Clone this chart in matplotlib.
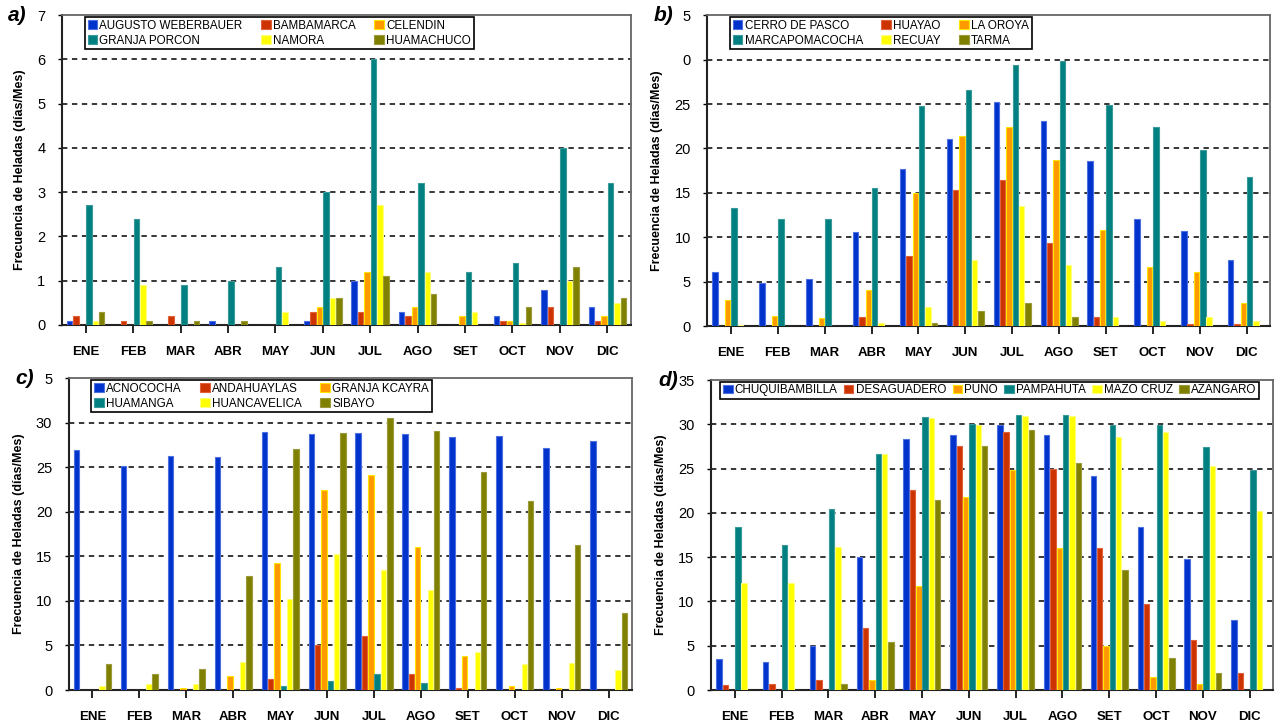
import numpy as np
import matplotlib
matplotlib.use("Agg")
import matplotlib.pyplot as plt

plt.rcParams['font.family'] = ['Liberation Sans', 'DejaVu Sans']

meses = ["ENE", "FEB", "MAR", "ABR", "MAY", "JUN", "JUL", "AGO", "SET", "OCT", "NOV", "DIC"]

# a) Cajamarca / La Libertad
est_a = ["AUGUSTO WEBERBAUER", "BAMBAMARCA", "CELENDIN", "GRANJA PORCON", "NAMORA", "HUAMACHUCO"]
a_weberbauer = [0.1, 0, 0, 0.1, 0, 0.1, 1.0, 0.3, 0, 0.2, 0.8, 0.4]
a_bambamarca = [0.2, 0.1, 0.2, 0, 0, 0.3, 0.3, 0.2, 0, 0.1, 0.4, 0.1]
a_celendin = [0, 0, 0, 0, 0, 0.4, 1.2, 0.4, 0.2, 0.1, 0, 0.2]
a_porcon = [2.7, 2.4, 0.9, 1.0, 1.3, 3.0, 6.0, 3.2, 1.2, 1.4, 4.0, 3.2]
a_namora = [0.1, 0.9, 0, 0, 0.3, 0.6, 2.7, 1.2, 0.3, 0.05, 1.0, 0.5]
a_huamachuco = [0.3, 0.1, 0.1, 0.1, 0, 0.6, 1.1, 0.7, 0, 0.4, 1.3, 0.6]

# b) Pasco / Junin / Ancash
est_b = ["CERRO DE PASCO", "HUAYAO", "LA OROYA", "MARCAPOMACOCHA", "RECUAY", "TARMA"]
b_pasco = [6.1, 4.8, 5.3, 10.6, 17.7, 21.1, 25.2, 23.1, 18.6, 12.1, 10.7, 7.4]
b_huayao = [0, 0, 0, 1.0, 7.9, 15.3, 16.4, 9.3, 1.0, 0, 0.2, 0.2]
b_oroya = [2.9, 1.1, 0.9, 4.1, 15.0, 21.4, 22.4, 18.7, 10.8, 6.6, 6.1, 2.6]
b_marca = [13.3, 12.0, 12.1, 15.5, 24.8, 26.6, 29.4, 29.8, 24.9, 22.4, 19.8, 16.8]
b_recuay = [0.1, 0, 0, 0.3, 2.1, 7.4, 13.5, 6.9, 1.0, 0.6, 1.0, 0.6]
b_tarma = [0, 0, 0, 0, 0.4, 1.7, 2.6, 1.0, 0, 0, 0, 0]

# c) sierra central / sur
est_c = ["ACNOCOCHA", "ANDAHUAYLAS", "GRANJA KCAYRA", "HUAMANGA", "HUANCAVELICA", "SIBAYO"]
c_acnococha = [26.9, 25.1, 26.3, 26.1, 29.0, 28.7, 28.8, 28.7, 28.4, 28.5, 27.2, 27.9]
c_andahuaylas = [0, 0, 0, 0, 1.2, 5.1, 6.1, 1.8, 0.2, 0, 0, 0]
c_kcayra = [0, 0, 0.2, 1.6, 14.3, 22.4, 24.1, 16.0, 3.8, 0.4, 0.2, 0]
c_huamanga = [0, 0, 0, 0, 0.5, 1.0, 1.8, 0.8, 0, 0, 0, 0]
c_huancavelica = [0.5, 0.7, 0.7, 3.1, 10.2, 15.3, 13.5, 11.2, 4.3, 2.9, 3.0, 2.3]
c_sibayo = [2.9, 1.8, 2.4, 12.8, 27.1, 28.8, 30.5, 29.1, 24.5, 21.2, 16.3, 8.6]

# d) altiplano
est_d = ["CHUQUIBAMBILLA", "DESAGUADERO", "PUNO", "PAMPAHUTA", "MAZO CRUZ", "AZANGARO"]
d_chuqui = [3.5, 3.2, 5.0, 15.0, 28.3, 28.8, 29.9, 28.8, 24.2, 18.4, 14.8, 7.9]
d_desaguadero = [0.6, 0.7, 1.1, 7.0, 22.6, 27.5, 29.1, 25.0, 16.0, 9.7, 5.7, 1.9]
d_puno = [0, 0, 0, 1.1, 11.8, 21.8, 24.8, 16.0, 5.0, 1.5, 0.7, 0]
d_pampahuta = [18.4, 16.4, 20.4, 26.7, 30.8, 30.0, 31.0, 31.0, 29.9, 29.9, 27.4, 24.8]
d_mazocruz = [12.1, 12.1, 16.2, 26.7, 30.7, 29.9, 30.9, 30.9, 28.6, 29.1, 25.3, 20.2]
d_azangaro = [0, 0, 0.7, 5.4, 21.5, 27.6, 29.3, 25.6, 13.5, 3.6, 1.9, 0]

colores = ["#0033CC", "#CC3300", "#FF9900", "#008080", "#FFFF00", "#808000"]
bordes = ["#4d70e0", "#e0603a", "#FFE600", "#3a9a9a", "#ffff80", "#9a9a3a"]


def panel(ax, series, nombres, letra, ymax, yticklabels, ncol, anchor_x, colsp):
    x = np.arange(len(meses))
    paso = 0.135
    handles = []
    for i, vals in enumerate(series):
        h = ax.bar(x + (i - 2.5) * paso, vals, width=0.115, color=colores[i],
                   edgecolor=bordes[i], linewidth=0.8, label=nombres[i], zorder=3)
        handles.append(h)
    ax.set_xlim(-0.5, 11.5)
    ax.set_ylim(0, ymax)
    step = 1 if ymax < 10 else 5
    ticks = np.arange(0, ymax + 0.01, step)
    ax.set_yticks(ticks)
    ax.set_yticklabels(yticklabels, fontsize=10.5)
    ax.set_xticks(x)
    ax.set_xticklabels(meses, fontsize=9.5, fontweight='bold')
    ax.tick_params(axis='x', length=6, width=1.2, pad=9)
    ax.tick_params(axis='y', length=3, width=1.0, pad=9)
    for t in ticks[1:-1]:
        ax.axhline(t, color='black', lw=1.1, ls=(0, (3.5, 3)), zorder=1)
    for s in ['left', 'bottom']:
        ax.spines[s].set_linewidth(1.5)
        ax.spines[s].set_color('#222222')
    for s in ['top', 'right']:
        ax.spines[s].set_linewidth(1.3)
        ax.spines[s].set_color('#666666')
    ax.set_ylabel("Frecuencia de Heladas (días/Mes)", fontsize=9, fontweight='bold', labelpad=8)
    # legend filled row-wise
    if ncol == 3:
        orden = [0, 3, 1, 4, 2, 5]
    else:
        orden = list(range(6))
    leg = ax.legend([handles[k] for k in orden], [nombres[k] for k in orden],
                    loc='upper left', bbox_to_anchor=(anchor_x, 0.995), ncol=ncol,
                    fontsize=8.4, frameon=True, fancybox=False, edgecolor='black',
                    framealpha=1, borderaxespad=0, borderpad=0.25, labelspacing=0.25,
                    handlelength=0.8, handleheight=0.7, handletextpad=0.2,
                    columnspacing=colsp)
    leg.get_frame().set_linewidth(1.2)
    leg.set_zorder(5)
    ax.text(-0.095, 1.0, letra, transform=ax.transAxes, fontsize=15, fontweight='bold',
            fontstyle='italic', ha='left', va='center')


fig = plt.figure(figsize=(12.77, 7.23), dpi=100)
ax_a = fig.add_axes([0.0486, 0.5505, 0.4455, 0.4285])
ax_b = fig.add_axes([0.554, 0.549, 0.4405, 0.430])
ax_c = fig.add_axes([0.054, 0.0456, 0.441, 0.4314])
ax_d = fig.add_axes([0.557, 0.0456, 0.440, 0.4288])

panel(ax_a, [a_weberbauer, a_bambamarca, a_celendin, a_porcon, a_namora, a_huamachuco],
      est_a, "a)", 7, [str(v) for v in range(8)], 3, 0.04, 1.6)
panel(ax_b, [b_pasco, b_huayao, b_oroya, b_marca, b_recuay, b_tarma],
      est_b, "b)", 35, ["0", "5", "10", "15", "20", "25", "0", "5"], 3, 0.04, 1.6)
panel(ax_c, [c_acnococha, c_andahuaylas, c_kcayra, c_huamanga, c_huancavelica, c_sibayo],
      est_c, "c)", 35, ["0", "5", "10", "15", "20", "25", "30", "5"], 3, 0.04, 1.6)
panel(ax_d, [d_chuqui, d_desaguadero, d_puno, d_pampahuta, d_mazocruz, d_azangaro],
      est_d, "d)", 35, ["0", "5", "10", "15", "20", "25", "30", "35"], 6, 0.016, 0.55)

fig.savefig("out.png", dpi=100)
